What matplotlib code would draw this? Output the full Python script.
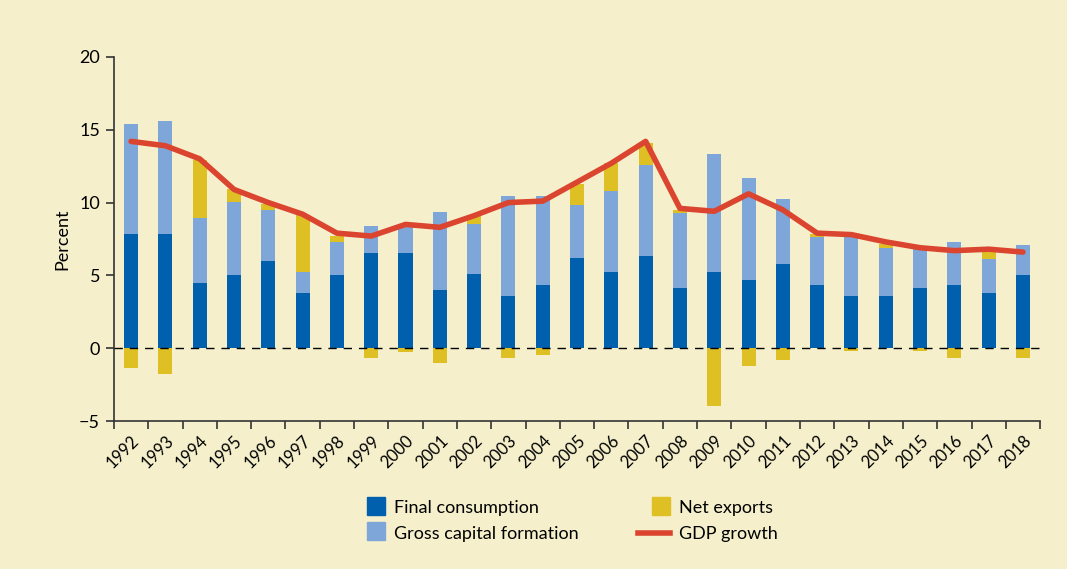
import matplotlib.pyplot as plt
import numpy as np
from matplotlib.lines import Line2D
from matplotlib.patches import Patch, Rectangle
from matplotlib.legend_handler import HandlerPatch

plt.rcParams['font.family'] = ['Lato', 'DejaVu Sans']

years = [str(y) for y in range(1992, 2019)]
final_consumption = [7.85, 7.85, 4.47, 5.02, 6.0, 3.79, 5.02, 6.54, 6.56, 4.0, 5.1, 3.6, 4.34,
                     6.2, 5.23, 6.33, 4.13, 5.23, 4.68, 5.78, 4.34, 3.58, 3.58, 4.13, 4.34, 3.79, 5.02]
gross_capital = [7.55, 7.75, 4.48, 5.03, 3.5, 1.44, 2.28, 1.86, 1.9, 5.36, 3.45, 6.85, 6.11,
                 3.64, 5.57, 6.27, 5.17, 8.12, 7.02, 4.47, 3.3, 4.27, 3.3, 2.8, 2.96, 2.33, 2.07]
net_exports = [-1.38, -1.79, 3.95, 0.85, 0.4, 3.92, 0.4, -0.69, -0.25, -1.0, 0.6, -0.67, -0.45,
               1.46, 1.9, 1.5, 0.2, -4.0, -1.24, -0.83, 0.21, -0.2, 0.28, -0.2, -0.69, 0.55, -0.69]
gdp_growth = [14.2, 13.9, 13.0, 10.9, 10.0, 9.2, 7.9, 7.7, 8.5, 8.3, 9.1, 10.0, 10.1,
              11.4, 12.7, 14.2, 9.6, 9.4, 10.6, 9.5, 7.9, 7.8, 7.3, 6.9, 6.7, 6.8, 6.6]

bg = '#F5F0CB'
c_fc = '#0060AE'
c_gcf = '#7EA6D9'
c_nx = '#DFC024'
c_gdp = '#DB4530'

fc = np.array(final_consumption)
gcf = np.array(gross_capital)
nx = np.array(net_exports)
x = np.arange(len(years))
w = 0.41

fig = plt.figure(figsize=(10.67, 5.69), dpi=100, facecolor=bg)
ax = fig.add_axes([0.1068, 0.26, 0.868, 0.64])
ax.set_facecolor(bg)

ax.bar(x, fc, w, color=c_fc, zorder=2)
ax.bar(x, gcf, w, bottom=fc, color=c_gcf, zorder=2)
nx_bottom = np.where(nx > 0, fc + gcf, 0)
ax.bar(x, nx, w, bottom=nx_bottom, color=c_nx, zorder=2)
ax.axhline(0, color='black', lw=1, ls=(0, (6, 5)), zorder=3)
ax.plot(x, gdp_growth, color=c_gdp, lw=4, zorder=4, solid_capstyle='round', solid_joinstyle='round')

ax.set_xlim(-0.5, len(years) - 0.5)
ax.set_ylim(-5, 20)
ax.set_yticks([-5, 0, 5, 10, 15, 20])
ax.tick_params(axis='y', labelsize=13, length=6, width=1.2, direction='out', color='#333333', pad=4)
ax.set_xticks(x)
ax.set_xticklabels(years, rotation=45, ha='right', rotation_mode='anchor', fontsize=12)
ax.tick_params(axis='x', which='major', length=0, pad=8)
ax.set_xticks(np.arange(-0.5, len(years)), minor=True)
ax.tick_params(axis='x', which='minor', length=6, width=1.2, color='#333333')
ax.set_ylabel('Percent', fontsize=13, labelpad=6)
for s in ['top', 'right']:
    ax.spines[s].set_visible(False)
for s in ['left', 'bottom']:
    ax.spines[s].set_linewidth(1.2)
    ax.spines[s].set_color('#333333')


# square legend keys sitting at the right end of the handle box
def right_square(legend, orig_handle, xdescent, ydescent, width, height, fontsize):
    side = 13
    return Rectangle((width - xdescent - side, height / 2 - ydescent - side / 2 + 1), side, side)


handles = [
    Patch(color=c_fc),
    Patch(color=c_gcf),
    Patch(color=c_nx),
    Line2D([], [], color=c_gdp, lw=4),
]
labels = ['Final consumption', 'Gross capital formation', 'Net exports', 'GDP growth']
fig.legend(handles, labels, loc='center', bbox_to_anchor=(0.53, 0.084), ncol=2,
           frameon=False, fontsize=13, handlelength=1.75, columnspacing=3.3,
           labelspacing=0.55, handletextpad=0.5,
           handler_map={Patch: HandlerPatch(patch_func=right_square)})

fig.savefig('out.png', dpi=100, facecolor=bg)
